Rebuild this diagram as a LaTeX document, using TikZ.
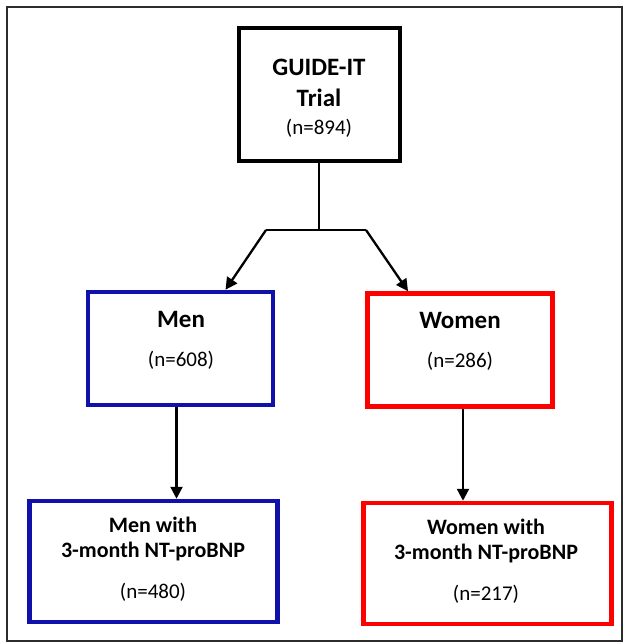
\documentclass[tikz,border=0pt]{standalone}
\usepackage{fontspec}
\setmainfont{Carlito}
\usetikzlibrary{arrows.meta}
\definecolor{menblue}{RGB}{16,16,170}
\definecolor{womenred}{RGB}{255,0,0}
\begin{document}
\begin{tikzpicture}
  [x=1pt,y=-1pt,
  box/.style={draw,rectangle,align=center,inner sep=0pt},
  trial/.style={box,line width=4pt,minimum width=161pt,minimum height=133pt},
  grp/.style={box,line width=4.5pt,minimum width=185pt,minimum height=113pt},
  sub/.style={box,line width=4.5pt,minimum width=248pt,minimum height=121pt},
  big/.style={font=\fontsize{25}{30}\selectfont\bfseries},
  mid/.style={font=\fontsize{22}{26}\selectfont\bfseries},
  num/.style={font=\fontsize{21}{25}\selectfont},
  arr/.style={line width=2.3pt,-{Triangle[length=12pt,width=12pt]}}]

  \useasboundingbox (0,0) rectangle (625,644);
  \draw[gray!35!black,line width=1.3pt] (7,7) rectangle (622,641);

  \node[trial] (trial) at (319,94.5) {};
  \node[big] (trialt) at (319,67) {GUIDE-IT};
  \node[big] (trialt2) at (319,98) {Trial};
  \node[num] (trialn) at (319,128) {(n=894)};

  \node[grp,draw=menblue] (men) at (180.5,348.5) {};
  \node[big] (ment) at (181,319) {Men};
  \node[num] (menn) at (181,360) {(n=608)};

  \node[grp,draw=womenred] (women) at (460,350) {};
  \node[big] (woment) at (460,320) {Women};
  \node[num] (womenn) at (460,361) {(n=286)};

  \node[sub,draw=menblue] (mensub) at (153.5,561.5) {};
  \node[mid] (mensubt) at (153,525) {Men with};
  \node[mid] (mensubt2) at (153,552) {3-month NT-proBNP};
  \node[num] (mensubn) at (153,592) {(n=480)};

  \node[sub,draw=womenred] (womensub) at (487.5,563.5) {};
  \node[mid] (womensubt) at (486,527) {Women with};
  \node[mid] (womensubt2) at (486,554) {3-month NT-proBNP};
  \node[num] (womensubn) at (486,594) {(n=217)};

  % split
  \coordinate (split) at (319,230);
  \coordinate (splitl) at (266,230);
  \coordinate (splitr) at (366,230);
  \draw[line width=2.3pt] (trial.south) -- (split);
  \draw[line width=2.3pt] (splitl) -- (splitr);
  \draw[arr] (splitl) -- ([xshift=45pt]men.north);
  \draw[arr] (splitr) -- ([xshift=-52pt]women.north);

  \draw[arr] ([xshift=-4pt]men.south) -- ([xshift=-4pt]men.south |- mensub.north);
  \draw[arr] ([xshift=3pt]women.south) -- ([xshift=3pt]women.south |- womensub.north);

\end{tikzpicture}
\end{document}
